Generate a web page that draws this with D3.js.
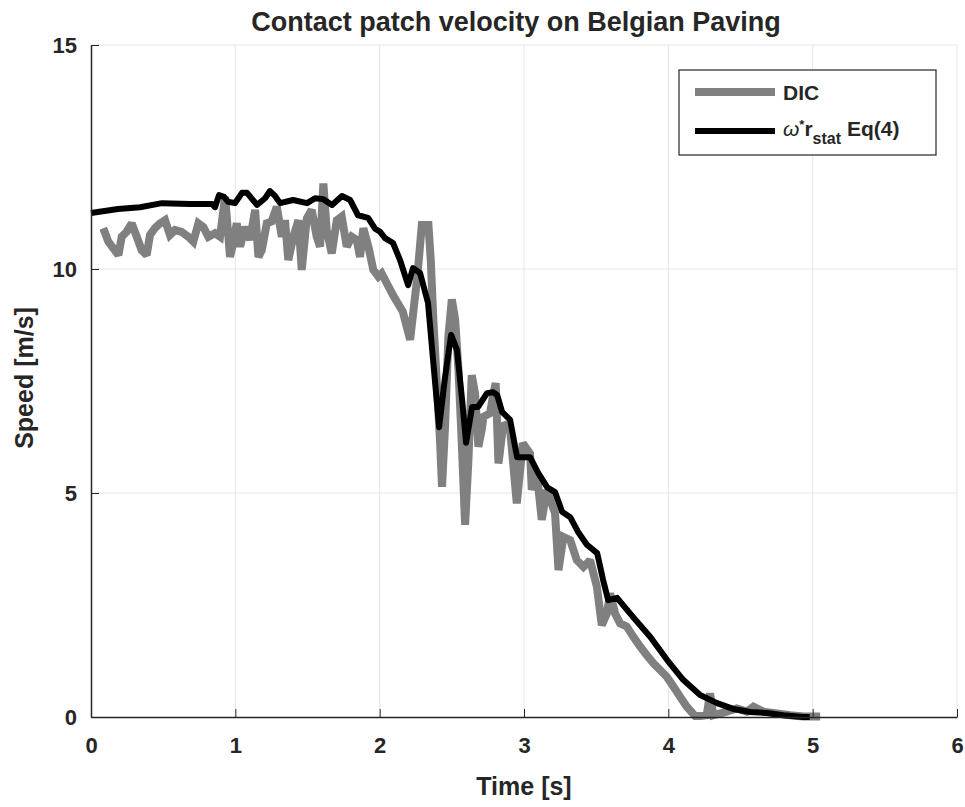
<!DOCTYPE html>
<html>
<head>
<meta charset="utf-8">
<script src="https://cdn.jsdelivr.net/npm/d3@7"></script>
<style>
  body { margin: 0; background: #fff; }
  text { font-family: "Liberation Sans", Arial, sans-serif; font-weight: bold; fill: #262626; }
  .grid line { stroke: #e6e6e6; stroke-width: 1; }
  .axis path, .axis line { stroke: #262626; }
</style>
</head>
<body>
<div id="chart"></div>
<script>
// DIC measured contact patch speed (gray)
var dicTime = [0.085,0.12,0.155,0.19,0.213,0.247,0.282,0.317,0.351,0.386,0.409,0.443,0.478,0.513,0.547,0.582,0.628,0.674,0.709,0.744,0.778,0.813,0.859,0.894,0.929,0.952,0.963,0.985,1.01,1.033,1.067,1.102,1.137,1.16,1.183,1.218,1.252,1.287,1.322,1.344,1.367,1.402,1.437,1.46,1.495,1.529,1.564,1.587,1.61,1.633,1.668,1.703,1.737,1.772,1.807,1.841,1.864,1.887,1.922,1.956,1.991,2.014,2.095,2.16,2.211,2.261,2.292,2.338,2.354,2.372,2.396,2.419,2.432,2.453,2.476,2.5,2.523,2.546,2.569,2.592,2.615,2.638,2.661,2.684,2.707,2.719,2.765,2.788,2.804,2.823,2.857,2.904,2.95,2.992,3.042,3.054,3.089,3.123,3.158,3.215,3.239,3.273,3.32,3.366,3.412,3.458,3.505,3.539,3.574,3.597,3.631,3.666,3.712,3.758,3.805,3.851,3.897,3.943,3.989,4.035,4.082,4.128,4.186,4.22,4.266,4.289,4.312,4.405,4.474,4.544,4.59,4.659,4.752,4.844,4.936,5.052];
var dicSpeed = [10.91,10.61,10.46,10.31,10.72,10.83,11.02,10.72,10.42,10.31,10.76,10.91,11.02,11.09,10.76,10.87,10.83,10.72,10.61,11.02,10.94,10.72,10.80,10.72,11.61,10.72,10.27,10.57,11.02,10.50,10.94,10.65,11.32,10.27,10.42,11.02,11.06,11.39,10.72,11.09,10.20,10.72,11.09,9.98,11.13,11.32,10.72,10.50,11.91,10.87,10.35,11.09,11.17,10.50,10.72,10.65,10.27,10.91,10.50,9.98,9.83,9.90,9.40,9.05,8.42,9.83,10.98,10.98,10.20,8.86,7.45,6.11,5.14,6.48,8.49,9.32,8.86,7.75,6.11,4.29,5.74,7.63,7.22,6.03,6.41,6.70,6.78,7.22,7.45,5.66,6.55,6.41,4.77,6.11,5.88,5.07,5.44,4.40,5.07,4.55,3.28,4.02,3.95,3.50,3.35,3.50,2.91,2.05,2.31,2.76,2.31,2.09,2.02,1.79,1.57,1.38,1.20,1.05,0.90,0.68,0.45,0.23,0.02,0.02,0.04,0.53,0.04,0.12,0.19,0.12,0.23,0.12,0.08,0.04,0.01,0.01];

// omega * r_stat, Eq(4) (black)
var omegaTime = [0,0.187,0.34,0.492,0.686,0.839,0.859,0.887,0.922,0.95,0.998,1.046,1.081,1.15,1.206,1.24,1.275,1.31,1.40,1.497,1.552,1.608,1.67,1.739,1.795,1.85,1.92,1.968,2.003,2.037,2.093,2.141,2.197,2.231,2.28,2.335,2.37,2.412,2.453,2.495,2.536,2.571,2.599,2.64,2.682,2.744,2.786,2.814,2.848,2.904,2.952,3.042,3.098,3.16,3.215,3.264,3.32,3.375,3.437,3.507,3.548,3.583,3.645,3.756,3.874,3.992,4.103,4.22,4.338,4.449,4.567,4.685,4.796,4.934,4.98];
var omegaSpeed = [11.25,11.34,11.38,11.47,11.45,11.45,11.38,11.65,11.61,11.5,11.47,11.7,11.7,11.43,11.58,11.74,11.63,11.47,11.54,11.47,11.58,11.56,11.43,11.63,11.54,11.2,11.14,10.9,10.83,10.69,10.58,10.2,9.64,10.02,9.91,9.24,7.97,6.47,7.59,8.53,8.19,7.08,6.12,6.92,6.92,7.23,7.25,7.19,6.81,6.63,5.80,5.80,5.45,5.13,5.02,4.58,4.46,4.13,3.84,3.66,3.06,2.61,2.66,2.23,1.79,1.27,0.83,0.49,0.31,0.18,0.11,0.09,0.04,0.0,0.0];

var xTicks = [0,1,2,3,4,5,6],
    yTicks = [0,5,10,15];

var width = 965, height = 807,
    margin = {top: 45, right: 8, bottom: 90, left: 91},
    plotW = width - margin.left - margin.right,
    plotH = height - margin.top - margin.bottom;

var svg = d3.select("#chart").append("svg")
    .attr("width", width)
    .attr("height", height);

var g = svg.append("g")
    .attr("transform", "translate(" + margin.left + "," + margin.top + ")");

var x = d3.scaleLinear().domain([0, 6]).range([0, plotW]),
    y = d3.scaleLinear().domain([0, 15]).range([plotH, 0]);

// grid
g.append("g").attr("class", "grid")
  .selectAll("line").data(xTicks.slice(1)).enter().append("line")
    .attr("x1", function(d){ return x(d); }).attr("x2", function(d){ return x(d); })
    .attr("y1", 0).attr("y2", plotH);
g.append("g").attr("class", "grid")
  .selectAll("line").data(yTicks.slice(1)).enter().append("line")
    .attr("x1", 0).attr("x2", plotW)
    .attr("y1", function(d){ return y(d); }).attr("y2", function(d){ return y(d); });

var line = d3.line()
    .x(function(d){ return x(d[0]); })
    .y(function(d){ return y(d[1]); });

var dic = dicTime.map(function(t, i){ return [t, dicSpeed[i]]; }),
    omega = omegaTime.map(function(t, i){ return [t, omegaSpeed[i]]; });

g.append("path")
  .attr("d", line(dic))
  .attr("fill", "none")
  .attr("stroke", "#808080")
  .attr("stroke-width", 8)
  .attr("stroke-linejoin", "miter")
  .attr("stroke-miterlimit", 2);

g.append("path")
  .attr("d", line(omega))
  .attr("fill", "none")
  .attr("stroke", "#000")
  .attr("stroke-width", 6)
  .attr("stroke-linejoin", "round");

// axes (inward ticks, MATLAB style)
var fmt = d3.format("d");
g.append("g").attr("class", "axis")
  .attr("transform", "translate(0," + plotH + ")")
  .call(d3.axisBottom(x).tickValues(xTicks).tickFormat(fmt).tickSizeInner(-8).tickSizeOuter(0).tickPadding(20));
g.append("g").attr("class", "axis")
  .call(d3.axisLeft(y).tickValues(yTicks).tickFormat(fmt).tickSizeInner(-8).tickSizeOuter(0).tickPadding(14));

g.selectAll(".axis text")
  .style("font-size", "22px")
  .style("font-family", "'Liberation Sans', Arial, sans-serif")
  .style("font-weight", "bold")
  .attr("fill", "#262626");
g.selectAll(".axis path").attr("stroke-width", 1.5);

// title and labels
svg.append("text")
  .attr("x", 516)
  .attr("y", 31)
  .attr("text-anchor", "middle")
  .style("font-size", "27px")
  .text("Contact patch velocity on Belgian Paving");

svg.append("text")
  .attr("x", margin.left + plotW / 2)
  .attr("y", 795)
  .attr("text-anchor", "middle")
  .style("font-size", "25px")
  .text("Time [s]");

svg.append("text")
  .attr("transform", "translate(33," + (margin.top + plotH / 2 - 3) + ") rotate(-90)")
  .attr("text-anchor", "middle")
  .style("font-size", "25px")
  .text("Speed [m/s]");

// legend
var lg = svg.append("g");
lg.append("rect")
  .attr("x", 679).attr("y", 70).attr("width", 257).attr("height", 85)
  .attr("fill", "#fff").attr("stroke", "#262626").attr("stroke-width", 1.2);
lg.append("line")
  .attr("x1", 695).attr("x2", 775).attr("y1", 92).attr("y2", 92)
  .attr("stroke", "#808080").attr("stroke-width", 8);
lg.append("line")
  .attr("x1", 695).attr("x2", 775).attr("y1", 131).attr("y2", 131)
  .attr("stroke", "#000").attr("stroke-width", 6);
lg.append("text")
  .attr("x", 783).attr("y", 100)
  .style("font-size", "21px")
  .text("DIC");
var t2 = lg.append("text")
  .attr("x", 783).attr("y", 136)
  .style("font-size", "21px");
t2.append("tspan").style("font-weight", "normal").style("font-style", "italic").text("\u03c9");
t2.append("tspan").style("font-size", "13px").attr("dy", -7).text("*");
t2.append("tspan").attr("dy", 7).text("r");
t2.append("tspan").style("font-size", "16px").attr("dy", 8).text("stat");
t2.append("tspan").attr("dy", -8).text(" Eq(4)");
</script>
</body>
</html>
